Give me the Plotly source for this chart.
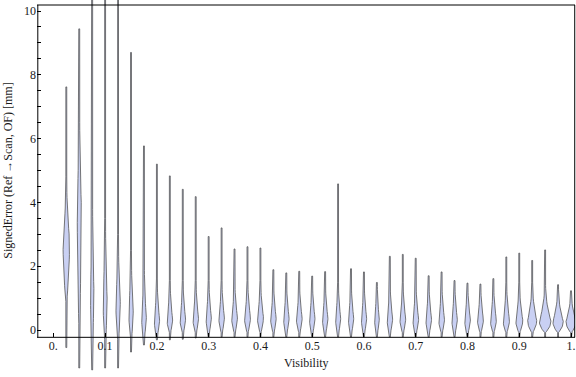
import plotly.graph_objects as go

# ---------------- data ----------------
visibility = [0.025, 0.05, 0.075, 0.1, 0.125, 0.15, 0.175, 0.2, 0.225, 0.25,
              0.275, 0.3, 0.325, 0.35, 0.375, 0.4, 0.425, 0.45, 0.475, 0.5,
              0.525, 0.55, 0.575, 0.6, 0.625, 0.65, 0.675, 0.7, 0.725, 0.75,
              0.775, 0.8, 0.825, 0.85, 0.875, 0.9, 0.925, 0.95, 0.975, 1.0]
# whisker top (max signed error, mm)
err_max = [7.62, 9.44, 11.5, 11.5, 11.5, 8.70, 5.77, 5.20, 4.83, 4.41,
           4.18, 2.93, 3.20, 2.54, 2.61, 2.57, 1.89, 1.79, 1.84, 1.69,
           1.83, 4.58, 1.92, 1.82, 1.49, 2.31, 2.37, 2.25, 1.70, 1.82,
           1.55, 1.47, 1.44, 1.61, 2.29, 2.41, 2.18, 2.51, 1.42, 1.23]
# whisker bottom (min signed error, mm)
err_min = [-0.55, -1.19, -1.25, -1.19, -1.19, -0.69, -0.47, -0.31, -0.31, -0.29,
           -0.25, -0.22, -0.22, -0.22, -0.22, -0.22, -0.22, -0.22, -0.22, -0.22,
           -0.22, -0.22, -0.22, -0.22, -0.22, -0.22, -0.22, -0.22, -0.22, -0.22,
           -0.22, -0.22, -0.22, -0.22, -0.22, -0.22, -0.22, -0.22, -0.22, -0.22]
# mode of the distribution (widest point)
err_mode = [2.85, 4.00, 1.30, 1.00, 0.90, 0.60, 0.45, 0.35, 0.35, 0.38,
            0.40, 0.42, 0.42, 0.42, 0.42, 0.42, 0.40, 0.40, 0.40, 0.40,
            0.40, 0.40, 0.40, 0.40, 0.38, 0.38, 0.38, 0.37, 0.37, 0.36,
            0.36, 0.35, 0.35, 0.34, 0.33, 0.32, 0.30, 0.28, 0.27, 0.27]
# lower / upper extent of the visible density body
body_lo = [0.90, 0.20, -0.30, -0.30, -0.30, -0.25, -0.20, -0.15, -0.08, -0.08,
           -0.08, -0.08, -0.08, -0.08, -0.08, -0.08, -0.08, -0.08, -0.08, -0.08,
           -0.08, -0.08, -0.08, -0.08, -0.08, -0.08, -0.08, -0.08, -0.08, -0.08,
           -0.08, -0.08, -0.08, -0.08, -0.08, -0.08, -0.08, -0.08, -0.08, -0.08]
body_hi = [4.80, 7.00, 4.00, 3.50, 3.00, 2.50, 2.00, 1.60, 1.55, 1.55,
           1.55, 1.55, 1.55, 1.55, 1.55, 1.55, 1.50, 1.50, 1.50, 1.50,
           1.50, 1.50, 1.50, 1.50, 1.45, 1.50, 1.50, 1.50, 1.50, 1.50,
           1.50, 1.45, 1.45, 1.45, 1.50, 1.50, 1.50, 1.50, 1.35, 1.23]
# relative peak density (drawn half-width, arbitrary units)
peak_density = [3.3, 2.0, 1.7, 2.0, 2.2, 2.2, 2.4, 2.7, 2.8, 2.8,
                2.8, 2.7, 2.8, 2.9, 3.0, 3.0, 2.8, 2.8, 2.9, 2.8,
                2.8, 2.6, 2.7, 2.7, 2.4, 2.8, 2.9, 2.9, 2.9, 2.9,
                2.8, 2.9, 3.0, 3.0, 3.2, 3.5, 4.5, 5.8, 5.2, 5.0]

x_tickvals = [0.0, 0.1, 0.2, 0.3, 0.4, 0.5, 0.6, 0.7, 0.8, 0.9, 1.0]
x_ticktext = ["0.", "0.1", "0.2", "0.3", "0.4", "0.5", "0.6", "0.7", "0.8", "0.9", "1."]
y_tickvals = [0, 0.5, 1, 1.5, 2, 2.5, 3, 3.5, 4, 4.5, 5, 5.5, 6, 6.5, 7, 7.5, 8, 8.5, 9, 9.5, 10]
y_ticktext = ["0", "", "", "", "2", "", "", "", "4", "", "", "", "6", "", "", "", "8", "", "", "", "10"]
top_tickvals = [0.0] + visibility

# ---------------- layout constants ----------------
W, H = 576, 377
X_RANGE = [-0.0316, 1.0077]
Y_RANGE = [-1.473, 10.345]
FRAME_Y = [-0.229, 10.188]
DENS_SCALE = (X_RANGE[1] - X_RANGE[0]) / 538.0   # density unit -> x units
STEM = 0.45
FILL = "rgb(201,208,243)"
EDGE = "rgb(85,85,85)"
FONT = "Liberation Serif, Times New Roman, serif"
TXT = "#1a1a1a"

yspan = Y_RANGE[1] - Y_RANGE[0]
pos_bottom = (FRAME_Y[0] - Y_RANGE[0]) / yspan
pos_top = (FRAME_Y[1] - Y_RANGE[0]) / yspan


def violin_outline(xc, ymin, ymax, lo, mode, hi, dens):
    hi = min(hi, ymax)
    ys = [ymin, lo]
    ws = [STEM, STEM]
    n = 12
    for i in range(1, n + 1):
        t = i / n
        ys.append(lo + (mode - lo) * t)
        ws.append(STEM + (dens - STEM) * (1 - (1 - t) ** 2))
    for i in range(1, n + 1):
        u = i / n
        ys.append(mode + (hi - mode) * u)
        ws.append(STEM + (dens - STEM) * (1 - u) ** 2.2)
    ys.append(ymax)
    ws.append(STEM)
    xr = [xc + w * DENS_SCALE for w in ws]
    xl = [xc - w * DENS_SCALE for w in ws]
    return xr + xl[::-1] + [xr[0]], ys + ys[::-1] + [ys[0]]


fig = go.Figure()
for i, xc in enumerate(visibility):
    vx, vy = violin_outline(xc, err_min[i], err_max[i], body_lo[i],
                            err_mode[i], body_hi[i], peak_density[i])
    fig.add_trace(go.Scatter(
        x=vx, y=vy, mode="lines", fill="toself", fillcolor=FILL,
        line=dict(color=EDGE, width=0.8), hoverinfo="skip", showlegend=False))

axfont = dict(family=FONT, size=12, color=TXT)
frame_line = dict(color="black", width=1)
fig.update_layout(
    width=W, height=H,
    margin=dict(l=37, r=1, t=0, b=0, autoexpand=False),
    paper_bgcolor="white", plot_bgcolor="white",
    showlegend=False,
    xaxis=dict(range=X_RANGE, anchor="free", position=pos_bottom,
               tickmode="array", tickvals=x_tickvals, ticktext=x_ticktext,
               ticks="inside", ticklen=4, tickcolor="black", tickwidth=1,
               showline=False, showgrid=False, zeroline=False,
               automargin=False, tickfont=axfont),
    xaxis2=dict(range=X_RANGE, overlaying="x", side="top", anchor="free",
                position=pos_top, tickmode="array", tickvals=top_tickvals,
                ticks="inside", ticklen=4, tickcolor="black",
                showticklabels=False, showline=False, showgrid=False,
                zeroline=False, automargin=False),
    yaxis=dict(range=Y_RANGE, domain=[0, 1], tickmode="array",
               tickvals=y_tickvals, ticktext=y_ticktext,
               ticks="inside", ticklen=4, tickcolor="black",
               showline=False, showgrid=False, zeroline=False,
               automargin=False, tickfont=axfont),
    yaxis2=dict(range=Y_RANGE, overlaying="y", side="right",
                tickmode="array", tickvals=y_tickvals, ticks="inside",
                ticklen=4, tickcolor="black", showticklabels=False,
                showline=False, showgrid=False, zeroline=False,
                automargin=False),
    shapes=[
        dict(type="line", xref="paper", yref="paper", x0=0, x1=1,
             y0=pos_bottom, y1=pos_bottom, line=frame_line, layer="above"),
        dict(type="line", xref="paper", yref="paper", x0=0, x1=1,
             y0=pos_top, y1=pos_top, line=frame_line, layer="above"),
        dict(type="line", xref="paper", yref="paper", x0=0.0015, x1=0.0015,
             y0=pos_bottom, y1=pos_top, line=frame_line, layer="above"),
        dict(type="line", xref="paper", yref="paper", x0=0.9995, x1=0.9995,
             y0=pos_bottom, y1=pos_top, line=frame_line, layer="above"),
    ],
    annotations=[
        dict(text="SignedError (Ref \u2192Scan, OF) [mm]", textangle=-90,
             xref="paper", x=0, xshift=-28.5, xanchor="center",
             yref="y", y=(FRAME_Y[0] + FRAME_Y[1]) / 2, yanchor="middle",
             showarrow=False, font=axfont),
        dict(text="Visibility", xref="paper", x=0.5, xanchor="center",
             yref="y", y=-1.03, yanchor="middle", showarrow=False,
             font=axfont),
    ],
)

fig.write_html("out.html",
               config={"displayModeBar": False, "staticPlot": True},
               post_script="document.body.style.margin='0';"
                           "document.body.style.overflow='hidden';")
